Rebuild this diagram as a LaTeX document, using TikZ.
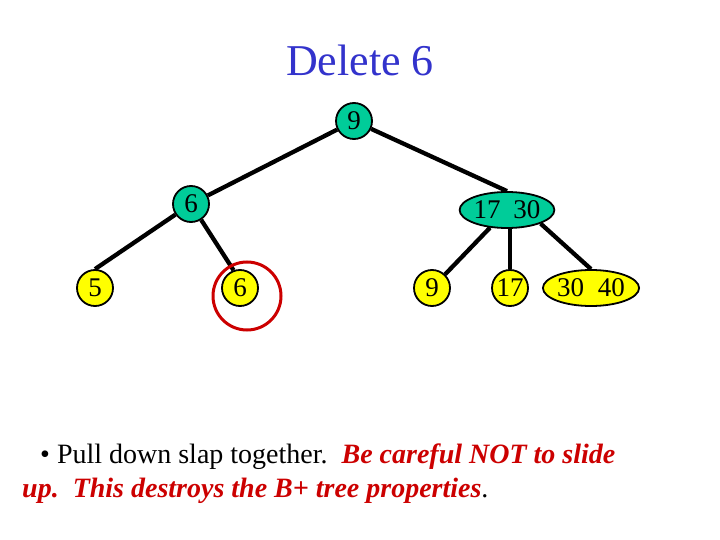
\documentclass[tikz,border=0pt]{standalone}
\usepackage{fontspec}
\setmainfont{Liberation Serif}
\usetikzlibrary{shapes.geometric,backgrounds}
\definecolor{inner}{RGB}{0,204,153}
\definecolor{leafc}{RGB}{255,255,0}
\definecolor{titleblue}{RGB}{51,51,204}
\definecolor{warnred}{RGB}{204,0,0}
\tikzset{
  keyfont/.style={font=\fontsize{27}{30}\selectfont},
  innernode/.style={circle,draw=black,line width=1.8pt,fill=inner,minimum size=36pt,inner sep=0pt,keyfont},
  innerwide/.style={ellipse,draw=black,line width=1.8pt,fill=inner,minimum width=80pt,minimum height=36pt,inner sep=0pt,keyfont},
  leafnode/.style={circle,draw=black,line width=1.8pt,fill=leafc,minimum size=36pt,inner sep=0pt,keyfont},
  leafwide/.style={ellipse,draw=black,line width=1.8pt,fill=leafc,minimum width=79pt,minimum height=36pt,inner sep=0pt,keyfont},
  edge/.style={line width=4.3pt,black},
  mark circle/.style={draw=warnred,line width=3pt},
  bodytext/.style={font=\fontsize{28}{34}\selectfont,inner sep=0pt}
}
\begin{document}
\begin{tikzpicture}[x=1pt,y=-1pt]
\useasboundingbox (0,0) rectangle (720,540);
% title
\node[anchor=base,font=\fontsize{44}{50}\selectfont,text=titleblue,inner sep=0pt] (title) at (360,76) {Delete 6};
% nodes
\node[innernode] (root) at (354,121) {9};
\node[innernode] (n6) at (191,204) {6};
\node[innerwide] (n1730) at (507,210) {17\hspace{13pt}30};
\node[leafnode] (l5) at (95,288) {5};
\node[leafnode] (l6) at (240,288) {6};
\node[leafnode] (l9) at (432,288) {9};
\node[leafnode] (l17) at (510,288) {17};
\node[leafwide] (l3040) at (591,288) {30\hspace{14pt}40};
% edges, under the nodes
\begin{scope}[on background layer]
\fill[white] (0,0) rectangle (720,540);
\draw[edge] (root) -- (n6);
\draw[edge] (root) -- (n1730.north);
\draw[edge] (n6) -- (l5.north);
\draw[edge] (n6) -- (l6.110);
\draw[edge] (n1730) -- (l9);
\draw[edge] (n1730.south -| l17) -- (l17.north);
\draw[edge] (n1730.-22) -- (l3040.north);
\end{scope}
% red marker circle round the deleted key
\coordinate (markc) at (247,296);
\draw[mark circle] (markc) circle (34);
% text
\node[bodytext,anchor=base west] (line1) at (40,463) {•\hspace{0.25em}Pull down slap together.\hspace{0.5em}\textcolor{warnred}{\textbf{\textit{Be careful NOT to slide}}}};
\node[bodytext,anchor=base west] (line2) at (22,497) {\textcolor{warnred}{\textbf{\textit{up.\hspace{0.5em}This destroys the B+ tree properties}}}.};
\end{tikzpicture}
\end{document}
